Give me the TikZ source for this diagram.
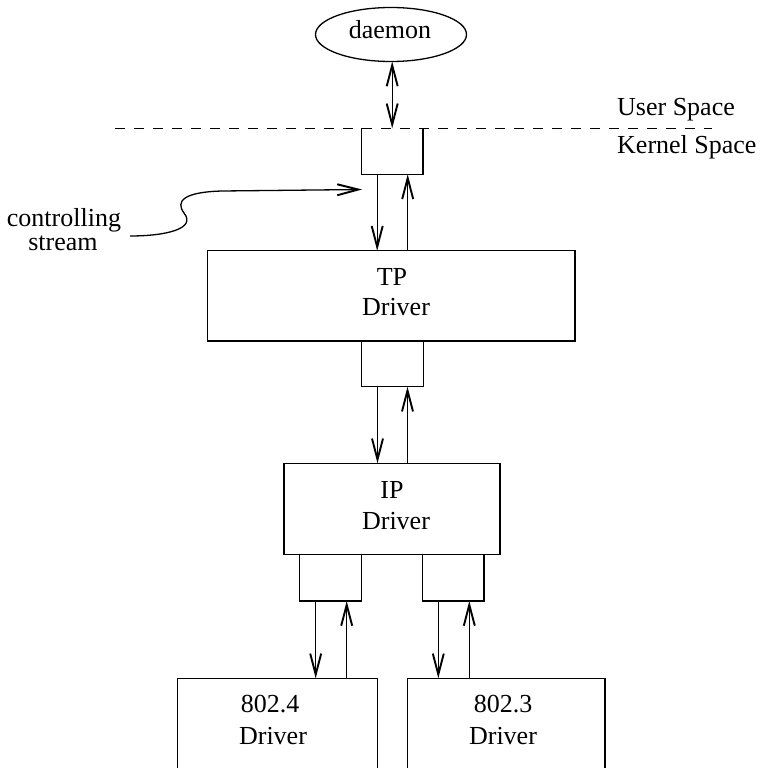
\documentclass[tikz,border=0pt]{standalone}
\usepackage{fontspec}
\setmainfont{Liberation Serif}
\usetikzlibrary{arrows.meta,shapes.geometric}
\begin{document}
\begin{tikzpicture}[x=1pt,y=-1pt,
  box/.style={draw, line width=1.4pt, inner sep=0pt, outer sep=0pt},
  port/.style={inner sep=0pt, outer sep=0pt, minimum width=61.5pt, minimum height=46pt},
  tip/.tip={Straight Barb[length=21pt,width=11pt,line width=1.9pt]},
  arr/.style={line width=1.2pt, -tip},
  darr/.style={line width=1.2pt, tip-tip},
  txt/.style={font=\fontsize{26}{30}\selectfont, anchor=base, inner sep=0pt},
  sep/.style={line width=1.3pt, dash pattern=on 10pt off 9pt}
]
\useasboundingbox (0,0) rectangle (769,768);
\fill[white] (0,0) rectangle (769,768);

% daemon
\node[box, ellipse, minimum width=151pt, minimum height=54pt, line width=1.3pt] (daemon) at (391,34.5) {};
\node[txt] (daemontxt) at (390,38.3) {daemon};

% user/kernel boundary
\coordinate (sepL) at (115,128.3);
\coordinate (sepR) at (712,128.3);
\draw[sep] (sepL) -- (sepR);
\node[txt, anchor=base west] (user) at (617,116) {User Space};
\node[txt, anchor=base west] (kernel) at (617,153) {Kernel Space};

% top port (open top)
\node[port, anchor=north] (s1) at (392.2,128.3) {};
\draw[line width=1.4pt] (s1.north west) -- (s1.south west) -- (s1.south east) -- (s1.north east);
\draw[darr] (daemon.south -| s1.north) -- (s1.north);

% TP driver
\node[box, minimum width=367.7pt, minimum height=90.3pt] (tp) at (391.2,295.9) {};
\node[txt] (tp1) at (392,285) {TP};
\node[txt] (tp2) at (396,315) {Driver};
\draw[arr] ([xshift=-15pt]s1.south) -- ([xshift=-15pt]s1.south |- tp.north);
\draw[arr] ([xshift=15.5pt]s1.south |- tp.north) -- ([xshift=15.5pt]s1.south);

% controlling stream
\node[txt] (ctl1) at (64,226) {controlling};
\node[txt] (ctl2) at (63,250) {stream};
\coordinate (ctlstart) at (130,236);
\coordinate (ctlend) at (362,189.5);
\draw[arr, line width=1.3pt] (ctlstart) .. controls (165,236) and (197,229) .. (184,213)
  .. controls (175,201) and (184,192) .. (222,191) -- (ctlend);

% second port
\node[box, port, anchor=north, minimum height=45.7pt] (s2) at (392.5,341) {};

% IP driver
\node[box, minimum width=216pt, minimum height=91pt] (ip) at (392,508.8) {};
\node[txt] (ip1) at (392,498) {IP};
\node[txt] (ip2) at (396,529) {Driver};
\draw[arr] ([xshift=-15pt]s2.south) -- ([xshift=-15pt]s2.south |- ip.north);
\draw[arr] ([xshift=15pt]s2.south |- ip.north) -- ([xshift=15pt]s2.south);

% lower ports
\node[box, port, anchor=north, minimum height=46.7pt, minimum width=62.4pt] (s3) at (330.5,554.3) {};
\node[box, port, anchor=north, minimum height=46.7pt, minimum width=61.3pt] (s4) at (453.4,554.3) {};

% 802.x drivers
\node[box, anchor=north, minimum width=200.4pt, minimum height=120pt] (d4) at (277.5,678.3) {};
\node[txt] (d4a) at (270,712.7) {802.4};
\node[txt] (d4b) at (273,744) {Driver};
\node[box, anchor=north, minimum width=197.7pt, minimum height=120pt] (d3) at (506.2,678.3) {};
\node[txt] (d3a) at (503,712.7) {802.3};
\node[txt] (d3b) at (503,744) {Driver};

\draw[arr] ([xshift=-14.8pt]s3.south) -- ([xshift=-14.8pt]s3.south |- d4.north);
\draw[arr] ([xshift=16.2pt]s3.south |- d4.north) -- ([xshift=16.2pt]s3.south);
\draw[arr] ([xshift=-15.1pt]s4.south) -- ([xshift=-15.1pt]s4.south |- d3.north);
\draw[arr] ([xshift=15.9pt]s4.south |- d3.north) -- ([xshift=15.9pt]s4.south);
\end{tikzpicture}
\end{document}
